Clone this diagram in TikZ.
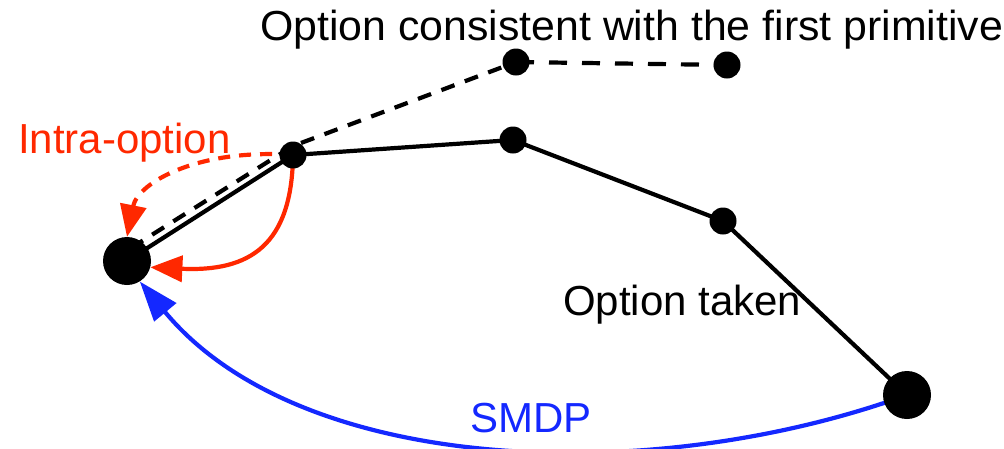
\documentclass[tikz,border=0pt]{standalone}
\usepackage{fontspec}
\setmainfont{Liberation Sans}
\usetikzlibrary{arrows.meta,backgrounds}
\definecolor{myred}{RGB}{255,40,0}
\definecolor{myblue}{RGB}{20,40,255}
\begin{document}
\begin{tikzpicture}[x=1pt,y=-1pt,
  dot/.style={circle,fill=black,inner sep=0pt,minimum size=27pt},
  bigdot/.style={circle,fill=black,inner sep=0pt,minimum size=48pt},
  lbl/.style={anchor=base west,inner sep=0pt,font=\fontsize{42}{48}\selectfont},
  edge/.style={line width=4.2pt},
  dsh/.style={edge,dash pattern=on 14pt off 11pt},
  redarrow/.style={edge,myred,-{Triangle[length=32pt,width=26pt]}},
  bluearrow/.style={edge,myblue,-{Triangle[length=40pt,width=28pt]}}]
\useasboundingbox (0,0) rectangle (1004,448);

\node[bigdot] (S) at (127,261) {};
\node[dot] (A) at (293,155) {};
\node[dot] (B) at (513,140) {};
\node[dot] (C) at (723,221) {};
\node[bigdot] (D) at (907,395) {};
\node[dot] (E) at (516,62) {};
\node[dot] (F) at (727,65) {};

\node[lbl] (t1) at (260,40) {\scalebox{1.02}[1]{Option consistent with the first primitive}};
\node[lbl,text=myred] (t2) at (18,153) {Intra-option};
\node[lbl] (t3) at (563,315) {Option taken};
\node[lbl,text=myblue] (t4) at (470,432) {SMDP};

\begin{pgfonlayer}{background}
  \draw[edge] (S.center) -- (A.center) -- (B.center) -- (C.center) -- (D.center);
  \draw[dsh] ([shift={(4,-13)}]S.center) -- ([shift={(0,-9)}]A.center) -- (E.center);
  \draw[dsh,dash pattern=on 18pt off 15pt] (E.center) -- (F.center);
  \draw[redarrow,dash pattern=on 12pt off 9pt] (A.center) .. controls (200,148) and (138,182) .. (S.north);
  \draw[redarrow] (A.center) .. controls (292,245) and (250,272) .. (S.-15);
  \draw[bluearrow] (D.center) .. controls (650,488) and (300,475) .. (S.-58);
\end{pgfonlayer}
\end{tikzpicture}
\end{document}
